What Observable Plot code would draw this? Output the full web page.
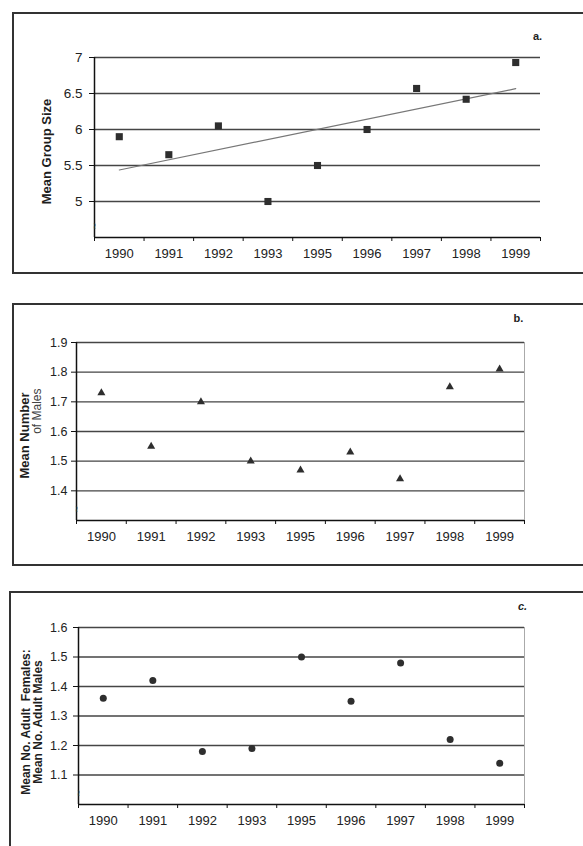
<!DOCTYPE html>
<html>
<head>
<meta charset="utf-8">
<script src="https://cdn.jsdelivr.net/npm/d3@7"></script>
<script src="https://cdn.jsdelivr.net/npm/@observablehq/plot@0.6"></script>
<style>
  html, body { margin: 0; padding: 0; background: #fff; }
  body { width: 583px; height: 846px; overflow: hidden; position: relative; font-family: "Liberation Sans", Arial, sans-serif; }
  .box { position: absolute; border: 2px solid #333; box-sizing: border-box; }
  .panel { position: absolute; left: 0; }
</style>
</head>
<body>
<div class="box" style="left:12px; top:12px; width:640px; height:262px;"></div>
<div class="box" style="left:12px; top:303px; width:640px; height:263px;"></div>
<div class="box" style="left:9px; top:591px; width:640px; height:300px;"></div>
<div id="a" class="panel" style="top:13px;"></div>
<div id="b" class="panel" style="top:304px;"></div>
<div id="c" class="panel" style="top:592px;"></div>
<script>
// ---- data ----
const years = ["1990", "1991", "1992", "1993", "1995", "1996", "1997", "1998", "1999"];
const groupSize = [5.9, 5.65, 6.05, 5.0, 5.5, 6.0, 6.57, 6.42, 6.93];
const males = [1.73, 1.55, 1.70, 1.50, 1.47, 1.53, 1.44, 1.75, 1.81];
const ratio = [1.36, 1.42, 1.18, 1.19, 1.50, 1.35, 1.48, 1.22, 1.14];
const ticksA = [5, 5.5, 6, 6.5, 7];
const ticksB = [1.4, 1.5, 1.6, 1.7, 1.8, 1.9];
const ticksC = [1.1, 1.2, 1.3, 1.4, 1.5, 1.6];
const domainA = [4.5, 7];
const domainB = [1.3, 1.9];
const domainC = [1.0, 1.6];

const idx = years.map((_, i) => i);
const bounds = years.map((_, i) => i - 0.5).concat([years.length - 0.5]);
const xDomain = [-0.5, years.length - 0.5];

function panel(opts) {
  const rows = years.map((y, i) => ({i, year: y, v: opts.values[i]}));
  const marks = [
    Plot.ruleY(opts.ticks, {stroke: "#454545", strokeWidth: 1.3}),
    Plot.ruleY([opts.domain[0]], {stroke: "#111", strokeWidth: 1.5}),
    Plot.ruleX([xDomain[0]], {stroke: "#111", strokeWidth: 1.5}),
  ];
  if (opts.rightBorder) marks.push(Plot.ruleX([xDomain[1]], {stroke: "#aaa", strokeWidth: 1}));
  marks.push(
    Plot.axisY({ticks: opts.ticks, tickSize: 5, tickPadding: opts.yPad, fontSize: opts.yFont,
      tickFormat: opts.yFormat, stroke: "#111", label: null}),
    Plot.axisX({ticks: idx, tickSize: 0, tickPadding: 11, fontSize: 13, tickFormat: i => years[i], label: null}),
    Plot.axisX({ticks: bounds, tickSize: 4, tickFormat: () => "", stroke: "#111", label: null}),
    Plot.text(["≀"], {frameAnchor: "bottom-left", dy: -9, fontSize: 9, textAnchor: "middle", fill: "#333"})
  );
  if (opts.trend) {
    marks.push(Plot.linearRegressionY(rows, {x: "i", y: "v", ci: 0, stroke: "#777", strokeWidth: 1.2}));
  }
  marks.push(Plot.dot(rows, {x: "i", y: "v", symbol: opts.symbol, r: opts.r, fill: "#2e2e2e", stroke: "none"}));
  for (const t of opts.labels) {
    marks.push(Plot.text([t.text], {frameAnchor: t.anchor || "left", rotate: -90, dx: t.dx, dy: t.dy,
      fontSize: t.size, fontWeight: t.weight || "bold", textAnchor: t.textAnchor || "middle",
      lineAnchor: "middle", fill: t.fill || "#1e1e1e"}));
  }
  marks.push(Plot.text([opts.letter], {frameAnchor: "top-right", dx: opts.letterDx, dy: opts.letterDy,
    fontSize: 11, fontWeight: "bold", textAnchor: "middle", fill: "#222", fontStyle: opts.letterStyle || "normal"}));
  return Plot.plot({
    width: 583,
    height: opts.height,
    marginTop: opts.mt,
    marginBottom: opts.mb,
    marginLeft: opts.ml,
    marginRight: opts.mr,
    style: {fontFamily: "'Liberation Sans', Arial, sans-serif", color: "#222", background: "transparent", overflow: "visible"},
    x: {domain: xDomain},
    y: {domain: opts.domain},
    marks
  });
}

document.getElementById("a").append(panel({
  values: groupSize, ticks: ticksA, domain: domainA, height: 260, mt: 44, mb: 36, ml: 94, mr: 43,
  yPad: 7, yFont: 13.5, yFormat: d => String(d), symbol: "square", r: 4, trend: true,
  labels: [{text: "Mean Group Size", dx: -48, dy: 4, size: 13}],
  letter: "a.", letterDx: -3, letterDy: -25
}));

document.getElementById("b").append(panel({
  values: males, ticks: ticksB, domain: domainB, height: 261, mt: 38, mb: 45, ml: 76, mr: 59,
  yPad: 4, yFont: 12.5, yFormat: d3.format(".1f"), symbol: "triangle", r: 3, rightBorder: true,
  labels: [
    {text: "Mean Number", dx: -52, dy: 4, size: 13},
    {text: "of Males", anchor: "top-left", dx: -39, dy: 46, size: 12, weight: "normal", textAnchor: "end", fill: "#444"}
  ],
  letter: "b.", letterDx: -6, letterDy: -28
}));

document.getElementById("c").append(panel({
  values: ratio, ticks: ticksC, domain: domainC, height: 254, mt: 35, mb: 42, ml: 78, mr: 59,
  yPad: 6, yFont: 12.5, yFormat: d3.format(".1f"), symbol: "circle", r: 3.5, rightBorder: true,
  labels: [
    {text: "Mean No. Adult  Females:", dx: -52, dy: 6, size: 12},
    {text: "Mean No. Adult Males", dx: -40, dy: 6, size: 12}
  ],
  letter: "c.", letterDx: -2, letterDy: -25, letterStyle: "italic"
}));
</script>
</body>
</html>
